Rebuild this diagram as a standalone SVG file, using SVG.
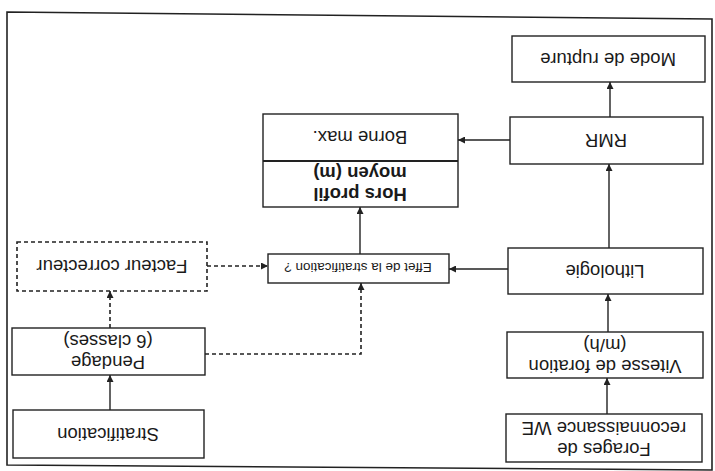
<svg xmlns="http://www.w3.org/2000/svg" width="715" height="471" viewBox="0 0 715 471">
<style>
  .box{fill:#fff;stroke:#222;stroke-width:1.4}
  .dbox{fill:#fff;stroke:#222;stroke-width:1.6;stroke-dasharray:4 3}
  .t{font-family:"Liberation Sans",Arial,sans-serif;font-size:18.5px;fill:#1a1a1a;text-anchor:middle}
  .b{font-weight:bold}
  .s{font-size:13.5px}
  .c{fill:none;stroke:#222;stroke-width:1.4}
  .d{fill:none;stroke:#222;stroke-width:1.6;stroke-dasharray:4 3}
</style>
<defs>
  <marker id="ah" viewBox="0 0 10 10" refX="10" refY="5" markerWidth="7" markerHeight="7" markerUnits="userSpaceOnUse" orient="auto">
    <path d="M0,0 L10,5 L0,10 Z" fill="#222"/>
  </marker>
</defs>
<rect width="715" height="471" fill="#fff"/>
<path d="M7,12 L712,19 L712,470 L7,465 Z" fill="none" stroke="#222" stroke-width="1.6"/>

<g id="connectors">
  <path class="c" d="M607,414 L607,378" marker-end="url(#ah)"/>
  <path class="c" d="M608,332 L608,294" marker-end="url(#ah)"/>
  <path class="c" d="M609,248 L609,164" marker-end="url(#ah)"/>
  <path class="c" d="M610,117 L610,82" marker-end="url(#ah)"/>
  <path class="c" d="M510,140 L458,140" marker-end="url(#ah)"/>
  <path class="c" d="M508,269 L449,269" marker-end="url(#ah)"/>
  <path class="c" d="M360,254 L360,207" marker-end="url(#ah)"/>
  <path class="d" d="M207,266 L268,266" marker-end="url(#ah)"/>
  <path class="d" d="M205,354 L361,354 L361,283" marker-end="url(#ah)"/>
  <path class="d" d="M110,328 L110,291" marker-end="url(#ah)"/>
  <path class="c" d="M110,410 L110,375" marker-end="url(#ah)"/>
</g>

<g id="mode">
  <rect class="box" x="512" y="36" width="193" height="46"/>
  <text class="t" transform="translate(608 59) rotate(180)" y="6.5">Mode de rupture</text>
</g>
<g id="rmr">
  <rect class="box" x="510" y="117" width="193" height="47"/>
  <text class="t" transform="translate(606 140) rotate(180)" y="6.5">RMR</text>
</g>
<g id="horsprofil">
  <rect class="box" x="263" y="114" width="195" height="93"/>
  <line x1="263" y1="161" x2="458" y2="161" stroke="#222" stroke-width="2"/>
  <text class="t" transform="translate(360 137) rotate(180)" y="6.5">Borne max.</text>
  <text class="t b" transform="translate(360 183) rotate(180)"><tspan x="0" y="-5">Hors profil</tspan><tspan x="0" y="16">moyen (m)</tspan></text>
</g>
<g id="lithologie">
  <rect class="box" x="508" y="248" width="195" height="46"/>
  <text class="t" transform="translate(605 271) rotate(180)" y="6.5">Lithologie</text>
</g>
<g id="effet">
  <rect class="box" x="268" y="254" width="181" height="29"/>
  <text class="t s" transform="translate(358 268) rotate(180)" y="5">Effet de la stratification ?</text>
</g>
<g id="vitesse">
  <rect class="box" x="507" y="332" width="196" height="46"/>
  <text class="t" transform="translate(605 355) rotate(180)"><tspan x="0" y="-5">Vitesse de foration</tspan><tspan x="0" y="16">(m/h)</tspan></text>
</g>
<g id="forages">
  <rect class="box" x="506" y="414" width="196" height="48"/>
  <text class="t" transform="translate(604 438) rotate(180)"><tspan x="0" y="-5">Forages de</tspan><tspan x="0" y="16">reconnaissance WE</tspan></text>
</g>
<g id="facteur">
  <rect class="dbox" x="17" y="242" width="190" height="49"/>
  <text class="t" transform="translate(112 266) rotate(180)" y="6.5">Facteur correcteur</text>
</g>
<g id="pendage">
  <rect class="box" x="12" y="328" width="193" height="47"/>
  <text class="t" transform="translate(108 351) rotate(180)"><tspan x="0" y="-5">Pendage</tspan><tspan x="0" y="16">(6 classes)</tspan></text>
</g>
<g id="stratification">
  <rect class="box" x="13" y="410" width="191" height="48"/>
  <text class="t" transform="translate(108 434) rotate(180)" y="6.5">Stratification</text>
</g>
</svg>
